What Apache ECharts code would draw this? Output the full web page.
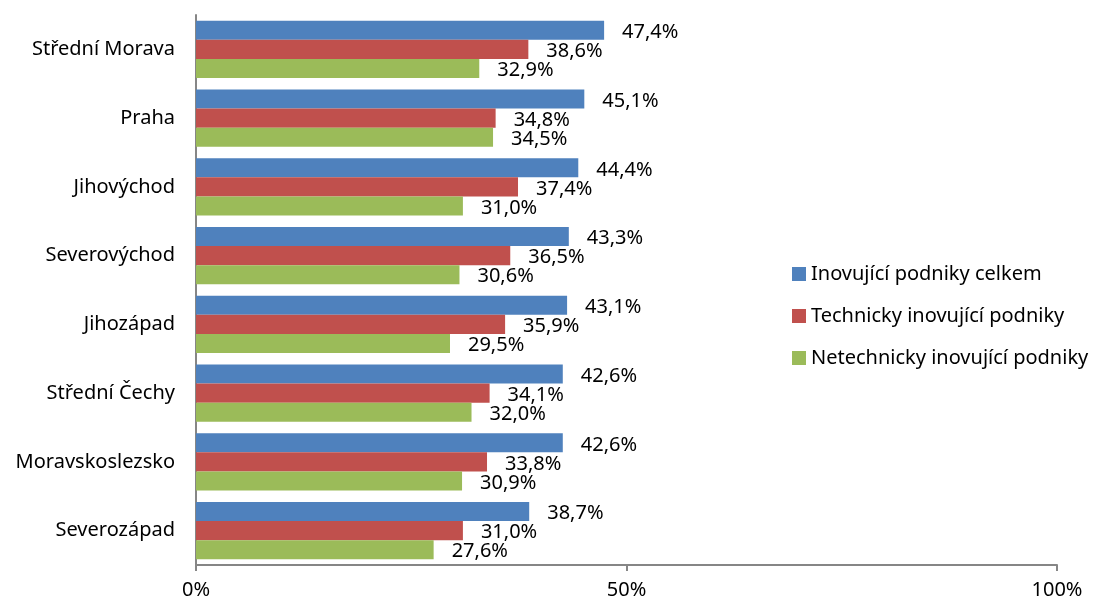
<!DOCTYPE html>
<html>
<head>
<meta charset="utf-8">
<script src="https://cdn.jsdelivr.net/npm/echarts@6/dist/echarts.min.js"></script>
<style>
  html, body { margin: 0; padding: 0; background: #fff; }
  #chart { width: 1099px; height: 605px; }
</style>
</head>
<body>
<div id="chart"></div>
<script>
const regions = ['Střední Morava', 'Praha', 'Jihovýchod', 'Severovýchod', 'Jihozápad', 'Střední Čechy', 'Moravskoslezsko', 'Severozápad']
const seriesNames = ['Inovující podniky celkem', 'Technicky inovující podniky', 'Netechnicky inovující podniky']
const celkem = [47.4, 45.1, 44.4, 43.3, 43.1, 42.6, 42.6, 38.7]
const technicky = [38.6, 34.8, 37.4, 36.5, 35.9, 34.1, 33.8, 31.0]
const netechnicky = [32.9, 34.5, 31.0, 30.6, 29.5, 32.0, 30.9, 27.6]
const colors = ['#4f81bd', '#c0504d', '#9bbb59']

const font = 'Noto Sans'
const chart = echarts.init(document.getElementById('chart'))

function barSeries(name, values, color) {
  return {
    name,
    type: 'bar',
    data: values,
    itemStyle: { color },
    barGap: '0%',
    barCategoryGap: '17%',
    label: {
      show: true,
      position: 'right',
      distance: 18,
      offset: [0, 2],
      color: '#000',
      fontFamily: font,
      fontSize: 20,
      formatter: (p) => p.value.toFixed(1).replace('.', ',') + '%',
    },
  }
}

chart.setOption({
  animation: false,
  color: colors,
  textStyle: { fontFamily: font },
  grid: { left: 196, right: 42, top: 15, bottom: 40 },
  legend: {
    orient: 'vertical',
    left: 787,
    top: 259,
    icon: 'rect',
    itemWidth: 14,
    itemHeight: 14,
    itemGap: 22,
    textStyle: { fontFamily: font, fontSize: 20, color: '#000' },
    data: seriesNames,
  },
  xAxis: {
    type: 'value',
    min: 0,
    max: 100,
    interval: 50,
    axisLine: { show: true, lineStyle: { color: '#868686', width: 2 } },
    axisTick: { show: true, length: 6, lineStyle: { color: '#868686', width: 2 } },
    splitLine: { show: false },
    axisLabel: { color: '#000', fontFamily: font, fontSize: 20, margin: 15, formatter: '{value}%' },
  },
  yAxis: {
    type: 'category',
    inverse: true,
    data: regions,
    axisLine: { show: true, lineStyle: { color: '#868686', width: 2 } },
    axisTick: { show: false },
    axisLabel: { color: '#000', fontFamily: font, fontSize: 20, margin: 21 },
  },
  series: [
    barSeries(seriesNames[0], celkem, colors[0]),
    barSeries(seriesNames[1], technicky, colors[1]),
    barSeries(seriesNames[2], netechnicky, colors[2]),
  ],
})
</script>
</body>
</html>
